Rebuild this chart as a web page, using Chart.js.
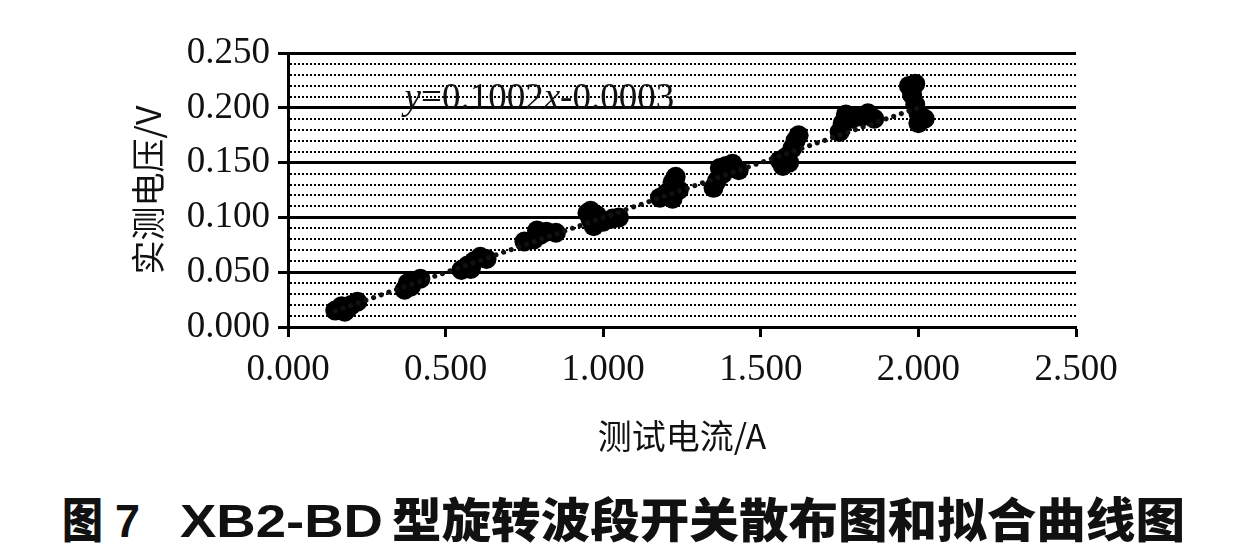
<!DOCTYPE html>
<html>
<head>
<meta charset="utf-8">
<script src="https://cdn.jsdelivr.net/npm/chart.js@4.4.1/dist/chart.umd.min.js"></script>
<style>
  body { margin: 0; background: #fff; }
  #wrap { position: relative; width: 1233px; height: 558px; overflow: hidden; background: #fff; }
  #chart { position: absolute; left: 0; top: 0; }
  #caption { position: absolute; left: 0; top: 493px; white-space: nowrap; line-height: 1; font-size: 47px; color: #111; }
  #caption .seg { display: inline-block; }
  #caption .seg span { display: inline-block; transform-origin: 0 50%; }
  .cjk { font-family: "Noto Sans CJK SC"; font-weight: 900; }
  .lat { font-family: "Liberation Sans", Arial, sans-serif; font-weight: 700; }
</style>
</head>
<body>
<div id="wrap">
  <canvas id="chart" width="1233" height="470"></canvas>
  <div id="caption"></div>
</div>
<script>
// measured current (A) and voltage (V) of each sample
const currentA = [
  0.15, 0.17, 0.18, 0.20, 0.22, 0.19,
  0.37, 0.38, 0.39, 0.40, 0.42,
  0.55, 0.57, 0.58, 0.59, 0.61, 0.63,
  0.75, 0.78, 0.79, 0.80, 0.82, 0.85,
  0.95, 0.96, 0.96, 0.97, 0.98, 1.00, 1.03, 1.05,
  1.18, 1.20, 1.22, 1.24, 1.22, 1.23,
  1.35, 1.36, 1.37, 1.38, 1.39, 1.41, 1.43,
  1.56, 1.57, 1.58, 1.59, 1.60, 1.61, 1.62,
  1.75, 1.76, 1.77, 1.79, 1.82, 1.84, 1.86,
  1.97, 1.98, 1.99, 1.99, 2.00, 2.00, 2.02
];
const voltageV = [
  0.015, 0.019, 0.014, 0.020, 0.023, 0.017,
  0.034, 0.040, 0.037, 0.042, 0.044,
  0.052, 0.056, 0.053, 0.060, 0.064, 0.062,
  0.078, 0.080, 0.088, 0.084, 0.087, 0.086,
  0.104, 0.098, 0.106, 0.092, 0.102, 0.096, 0.099, 0.100,
  0.118, 0.122, 0.117, 0.125, 0.132, 0.137,
  0.127, 0.133, 0.145, 0.140, 0.147, 0.149, 0.143,
  0.152, 0.147, 0.155, 0.150, 0.163, 0.170, 0.175,
  0.178, 0.186, 0.194, 0.190, 0.192, 0.195, 0.190,
  0.220, 0.212, 0.222, 0.203, 0.195, 0.186, 0.190
];
// linear fit line end points
const fitX = [0.15, 2.00];
const fitY = [0.0147, 0.2001];
const fitLabel = [['y', true], ['=0.1002', false], ['x', true], ['-0.0003', false]];
const fitLabelAt = [0.37, 0.208];

const xTickLabels = ['0.000', '0.500', '1.000', '1.500', '2.000', '2.500'];
const yTickLabels = ['0.000', '0.050', '0.100', '0.150', '0.200', '0.250'];

const xTitle = '测试电流/A';
const yTitle = '实测电压/V';
const captionParts = [
  ['图', 'cjk', 62, 103],
  ['7', 'lat', 115, 140],
  ['XB2-BD', 'lat', 180, 383],
  ['型旋转波段开关散布图和拟合曲线图', 'cjk', 392, 1185]
];

const points = currentA.map((x, i) => ({ x: x, y: voltageV[i] }));
const fitPoints = fitX.map((x, i) => ({ x: x, y: fitY[i] }));

const isMajor = v => Math.round(v * 100) % 5 === 0;
const serif = '"Liberation Serif", "Times New Roman", serif';

const equationPlugin = {
  id: 'equation',
  afterDatasetsDraw(chart) {
    const { ctx, scales } = chart;
    let px = scales.x.getPixelForValue(fitLabelAt[0]);
    const py = scales.y.getPixelForValue(fitLabelAt[1]);
    ctx.save();
    ctx.fillStyle = '#111';
    ctx.textBaseline = 'middle';
    fitLabel.forEach(([t, it]) => {
      ctx.font = (it ? 'italic ' : '') + '37px ' + serif;
      ctx.fillText(t, px, py);
      px += ctx.measureText(t).width;
    });
    ctx.restore();
  }
};

new Chart(document.getElementById('chart'), {
  type: 'scatter',
  data: {
    datasets: [{
      type: 'line',
      data: fitPoints,
      showLine: true,
      borderColor: '#111',
      borderWidth: 5,
      borderDash: [0.1, 8],
      borderCapStyle: 'round',
      pointRadius: 0,
      order: 0
    }, {
      data: points,
      backgroundColor: '#000',
      borderWidth: 0,
      pointRadius: 10,
      order: 1
    }]
  },
  options: {
    responsive: false,
    animation: false,
    layout: { padding: { left: 0, top: 53, right: 157, bottom: 0 } },
    plugins: { legend: { display: false }, tooltip: { enabled: false } },
    scales: {
      x: {
        type: 'linear',
        min: 0,
        max: 2.5,
        afterFit: s => { s.height = 143; },
        ticks: {
          stepSize: 0.5,
          padding: 11,
          color: '#111',
          font: { family: serif, size: 37 },
          callback: (v, i) => xTickLabels[i]
        },
        grid: { drawOnChartArea: false, tickLength: 10, tickWidth: 3, tickColor: '#000' },
        border: { color: '#000', width: 3 },
        title: {
          display: true,
          text: xTitle,
          color: '#111',
          font: { family: '"Noto Sans CJK SC"', size: 34 },
          padding: { top: 0, bottom: 14 }
        }
      },
      y: {
        min: 0,
        max: 0.25,
        afterFit: s => { s.width = 288; },
        ticks: {
          stepSize: 0.01,
          autoSkip: false,
          padding: 8,
          color: '#111',
          font: { family: serif, size: 37 },
          callback: v => isMajor(v) ? yTickLabels[Math.round(v * 20)] : ''
        },
        grid: {
          color: '#000',
          lineWidth: c => isMajor(c.tick.value) ? 3 : 2,
          tickLength: 10,
          tickWidth: 3,
          tickColor: c => isMajor(c.tick.value) ? '#000' : 'rgba(0,0,0,0)'
        },
        border: {
          color: '#000',
          width: 3,
          dash: c => (c.tick && !isMajor(c.tick.value)) ? [2, 2] : []
        },
        title: {
          display: true,
          text: yTitle,
          color: '#111',
          font: { family: '"Noto Sans CJK SC"', size: 34 },
          padding: { top: 128, bottom: 0 }
        }
      }
    }
  },
  plugins: [equationPlugin]
});

// caption line, each piece stretched to its width in the original figure
const cap = document.getElementById('caption');
let lastRight = 0;
captionParts.forEach(([text, cls, left, right]) => {
  const seg = document.createElement('span');
  seg.className = 'seg ' + cls;
  seg.style.marginLeft = (left - lastRight) + 'px';
  seg.style.width = (right - left) + 'px';
  const inner = document.createElement('span');
  inner.textContent = text;
  seg.appendChild(inner);
  cap.appendChild(seg);
  const w = inner.getBoundingClientRect().width;
  inner.style.transform = 'scaleX(' + ((right - left) / w) + ')';
  lastRight = right;
});
</script>
</body>
</html>
